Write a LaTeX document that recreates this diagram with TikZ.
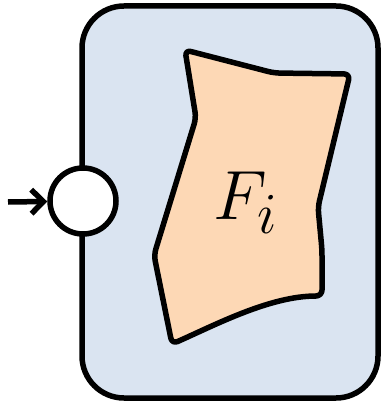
\documentclass[tikz,border=0pt]{standalone}
\usepackage{tikz}
\usetikzlibrary{arrows.meta}
\definecolor{procblue}{HTML}{DAE4F1}
\definecolor{regionpeach}{HTML}{FDD8B5}

\begin{document}
\begin{tikzpicture}[x=1pt, y=-1pt,
  proc/.style={rectangle, rounded corners=42pt, draw, line width=5.5pt, fill=procblue,
               minimum width=296pt, minimum height=392pt, inner sep=0pt},
  port/.style={circle, draw, line width=5.5pt, fill=white, minimum size=66pt, inner sep=0pt},
  region/.style={draw, line width=5.5pt, fill=regionpeach, rounded corners=6pt, line join=round},
  arr/.style={-{Straight Barb[length=12pt, width=24pt]}, line width=5.5pt}]
\useasboundingbox (0,0) rectangle (383,403);
\node[proc] (box) at (230,202) {};
% the region inside the process
\draw[region] (185,50) -- (274,73) -- (350,74) -- (318,207) -- (322,250) -- (322,296)
  .. controls (270,296) and (215,325) .. (172,344) -- (154,255) -- (196,118) -- cycle;
\node[font=\Huge, scale=2.8, transform shape] (lbl) at (246,203) {$F_i$};
\node[port] (in) at (83,201) {};
\coordinate (src) at (8,202);
\draw[arr] (src) -- (in);
\end{tikzpicture}
\end{document}
